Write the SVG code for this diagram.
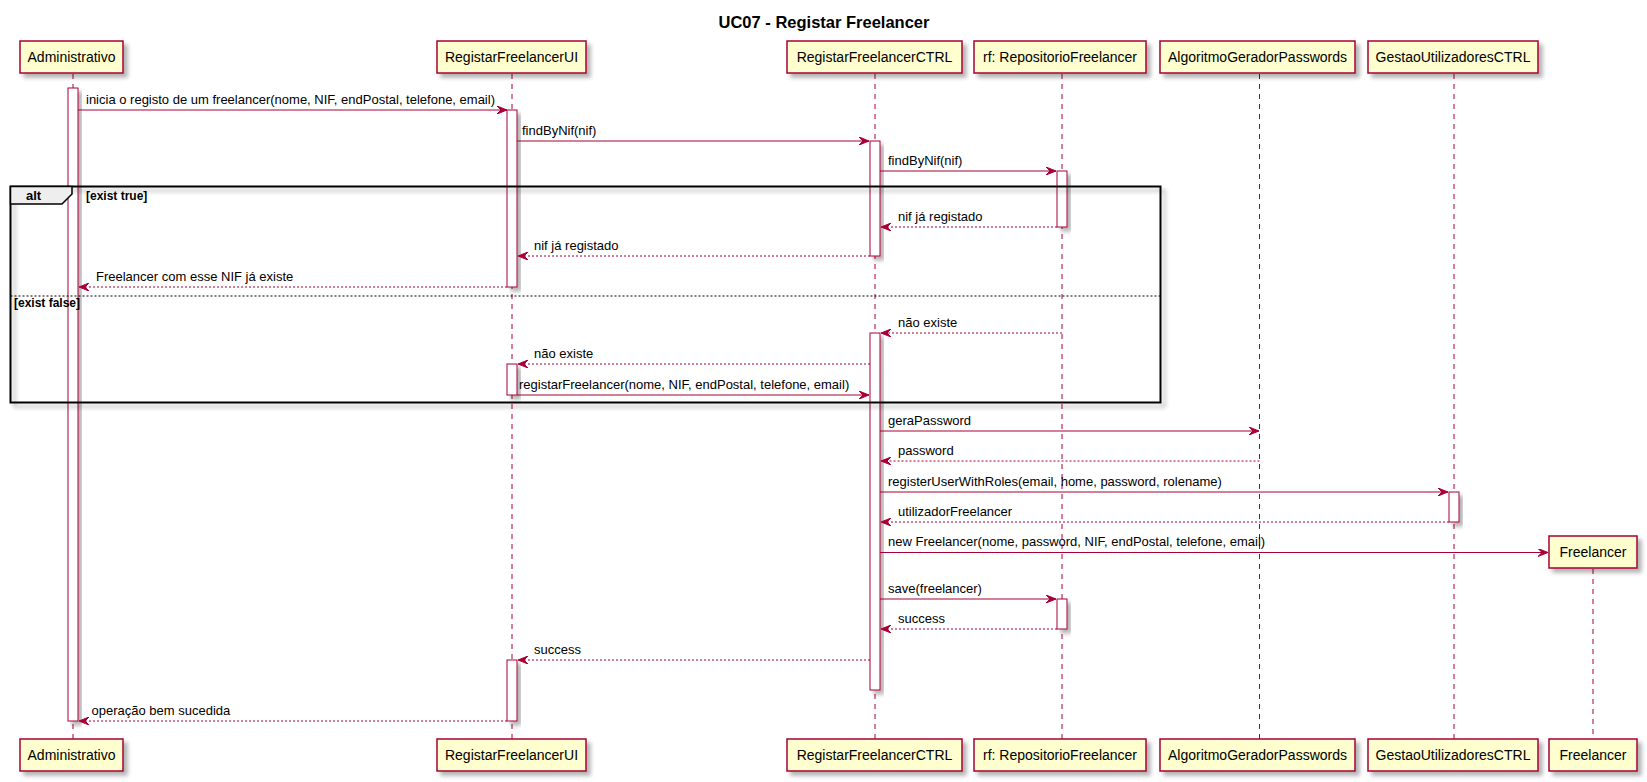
<svg xmlns="http://www.w3.org/2000/svg" width="1647" height="782" viewBox="0 0 1647 782">
<style>
.box{fill:#FEFECE;stroke:#A80036;stroke-width:1.5;filter:url(#sh)}
.pt{font-family:"Liberation Sans",Arial,sans-serif;font-size:14px;fill:#000;text-anchor:middle}
.life{stroke:#A80036;stroke-width:1;stroke-dasharray:5,5;fill:none}
.act{fill:#FFFFFF;stroke:#A80036;stroke-width:1;filter:url(#sh)}
.msg{stroke:#A80036;stroke-width:1;fill:none;marker-end:url(#ah)}
.ret{stroke:#A80036;stroke-width:1;fill:none;stroke-dasharray:2,2;marker-end:url(#ah)}
.ml{font-family:"Liberation Sans",Arial,sans-serif;font-size:13px;fill:#000}
.fl{font-family:"Liberation Sans",Arial,sans-serif;font-size:12px;font-weight:bold;fill:#000}
</style>
<defs>
<filter id="sh" x="-20%" y="-20%" width="160%" height="160%">
<feGaussianBlur in="SourceAlpha" stdDeviation="2"/>
<feOffset dx="4" dy="4" result="o"/>
<feComponentTransfer><feFuncA type="linear" slope="0.3"/></feComponentTransfer>
<feMerge><feMergeNode/><feMergeNode in="SourceGraphic"/></feMerge>
</filter>
<marker id="ah" viewBox="0 0 10 8" refX="10" refY="4" markerWidth="10" markerHeight="8" markerUnits="userSpaceOnUse" orient="auto">
<path d="M0,0 L10,4 L0,8 L4,4 Z" fill="#A80036" stroke="#A80036" stroke-width="1"/>
</marker>
</defs>
<rect x="0" y="0" width="1647" height="782" fill="#FFFFFF"/>
<text x="824" y="28" font-family="'Liberation Sans',Arial,sans-serif" font-size="16.5" font-weight="bold" text-anchor="middle">UC07 - Registar Freelancer</text>

<g id="Administrativo">
<line class="life" x1="73" y1="74" x2="73" y2="739"/>
<rect class="act" x="68" y="88" width="10" height="633"/>
<rect class="box" x="20" y="41" width="103" height="32"/>
<text class="pt" x="71.5" y="62">Administrativo</text>
<rect class="box" x="20" y="739" width="103" height="32"/>
<text class="pt" x="71.5" y="760">Administrativo</text>
</g>

<g id="RegistarFreelancerUI">
<line class="life" x1="512" y1="74" x2="512" y2="739"/>
<rect class="act" x="507" y="110" width="10" height="177"/>
<rect class="act" x="507" y="364" width="10" height="31"/>
<rect class="act" x="507" y="660" width="10" height="61"/>
<rect class="box" x="437" y="41" width="149" height="32"/>
<text class="pt" x="511.5" y="62">RegistarFreelancerUI</text>
<rect class="box" x="437" y="739" width="149" height="32"/>
<text class="pt" x="511.5" y="760">RegistarFreelancerUI</text>
</g>

<g id="RegistarFreelancerCTRL">
<line class="life" x1="875" y1="74" x2="875" y2="739"/>
<rect class="act" x="870" y="141" width="10" height="115"/>
<rect class="act" x="870" y="333" width="10" height="357"/>
<rect class="box" x="787" y="41" width="175" height="32"/>
<text class="pt" x="874.5" y="62">RegistarFreelancerCTRL</text>
<rect class="box" x="787" y="739" width="175" height="32"/>
<text class="pt" x="874.5" y="760">RegistarFreelancerCTRL</text>
</g>

<g id="RepositorioFreelancer">
<line class="life" x1="1062" y1="74" x2="1062" y2="739"/>
<rect class="act" x="1057" y="171" width="10" height="56"/>
<rect class="act" x="1057" y="599" width="10" height="30"/>
<rect class="box" x="974" y="41" width="172" height="32"/>
<text class="pt" x="1060" y="62">rf: RepositorioFreelancer</text>
<rect class="box" x="974" y="739" width="172" height="32"/>
<text class="pt" x="1060" y="760">rf: RepositorioFreelancer</text>
</g>

<g id="AlgoritmoGeradorPasswords">
<line class="life" x1="1259.5" y1="74" x2="1259.5" y2="739"/>
<rect class="box" x="1160" y="41" width="195" height="32"/>
<text class="pt" x="1257.5" y="62">AlgoritmoGeradorPasswords</text>
<rect class="box" x="1160" y="739" width="195" height="32"/>
<text class="pt" x="1257.5" y="760">AlgoritmoGeradorPasswords</text>
</g>

<g id="GestaoUtilizadoresCTRL">
<line class="life" x1="1454" y1="74" x2="1454" y2="739"/>
<rect class="act" x="1449" y="492" width="10" height="30"/>
<rect class="box" x="1368" y="41" width="170" height="32"/>
<text class="pt" x="1453" y="62">GestaoUtilizadoresCTRL</text>
<rect class="box" x="1368" y="739" width="170" height="32"/>
<text class="pt" x="1453" y="760">GestaoUtilizadoresCTRL</text>
</g>

<g id="Freelancer">
<line class="life" x1="1593" y1="569" x2="1593" y2="739"/>
<rect class="box" x="1549" y="536" width="88" height="32"/>
<text class="pt" x="1593" y="557">Freelancer</text>
<rect class="box" x="1549" y="739" width="88" height="32"/>
<text class="pt" x="1593" y="760">Freelancer</text>
</g>

<g id="alt">
<rect x="10.5" y="186.5" width="1150" height="216" fill="none" stroke="#000" stroke-width="2" filter="url(#sh)"/>
<path d="M10.5,186.5 H72 V194 L62,204 H10.5 Z" fill="#EEEEEE" stroke="#000" stroke-width="1.5"/>
<text x="33.5" y="200" font-family="'Liberation Sans',Arial,sans-serif" font-size="13" font-weight="bold" text-anchor="middle">alt</text>
<text class="fl" x="86" y="200">[exist true]</text>
<line x1="10.5" y1="296" x2="1160.5" y2="296" stroke="#000" stroke-width="1" stroke-dasharray="2,2"/>
<text class="fl" x="14" y="307">[exist false]</text>
</g>

<g id="connectors">
<line class="msg" x1="78" y1="110" x2="507" y2="110"/>
<text class="ml" x="86" y="104">inicia o registo de um freelancer(nome, NIF, endPostal, telefone, email)</text>
<line class="msg" x1="517" y1="141" x2="869" y2="141"/>
<text class="ml" x="522" y="135">findByNif(nif)</text>
<line class="msg" x1="880" y1="171" x2="1056" y2="171"/>
<text class="ml" x="888" y="165">findByNif(nif)</text>
<line class="ret" x1="1057" y1="227" x2="881" y2="227"/>
<text class="ml" x="898" y="221">nif já registado</text>
<line class="ret" x1="870" y1="256" x2="518" y2="256"/>
<text class="ml" x="534" y="250">nif já registado</text>
<line class="ret" x1="507" y1="287" x2="79" y2="287"/>
<text class="ml" x="96" y="281">Freelancer com esse NIF já existe</text>
<line class="ret" x1="1062" y1="333" x2="881" y2="333"/>
<text class="ml" x="898" y="327">não existe</text>
<line class="ret" x1="870" y1="364" x2="518" y2="364"/>
<text class="ml" x="534" y="358">não existe</text>
<line class="msg" x1="517" y1="395" x2="869" y2="395"/>
<text class="ml" x="519" y="389">registarFreelancer(nome, NIF, endPostal, telefone, email)</text>
<line class="msg" x1="880" y1="431" x2="1259" y2="431"/>
<text class="ml" x="888" y="425">geraPassword</text>
<line class="ret" x1="1259.5" y1="461" x2="881" y2="461"/>
<text class="ml" x="898" y="455">password</text>
<line class="msg" x1="880" y1="492" x2="1448" y2="492"/>
<text class="ml" x="888" y="486">registerUserWithRoles(email, home, password, rolename)</text>
<line class="ret" x1="1449" y1="522" x2="881" y2="522"/>
<text class="ml" x="898" y="516">utilizadorFreelancer</text>
<line class="msg" x1="880" y1="552.5" x2="1548" y2="552.5"/>
<text class="ml" x="888" y="546">new Freelancer(nome, password, NIF, endPostal, telefone, email)</text>
<line class="msg" x1="880" y1="599" x2="1056" y2="599"/>
<text class="ml" x="888" y="593">save(freelancer)</text>
<line class="ret" x1="1057" y1="629" x2="881" y2="629"/>
<text class="ml" x="898" y="623">success</text>
<line class="ret" x1="870" y1="660" x2="518" y2="660"/>
<text class="ml" x="534" y="654">success</text>
<line class="ret" x1="507" y1="721" x2="79" y2="721"/>
<text class="ml" x="91.5" y="715">operação bem sucedida</text>
</g>
</svg>
